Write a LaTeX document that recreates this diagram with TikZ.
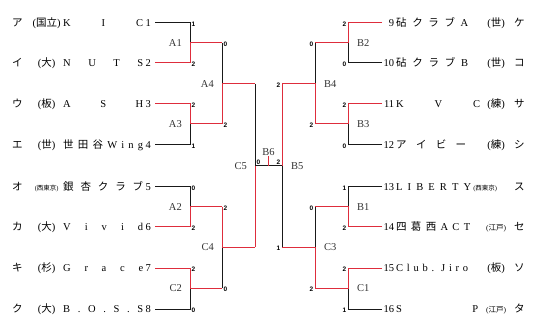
\documentclass[tikz,border=0pt]{standalone}
\usepackage{fontspec}
\setmainfont{Liberation Serif}
\newfontfamily\jp{Noto Sans CJK JP}
\newfontfamily\scf{Liberation Sans}
\newcommand\J[1]{{\jp #1}}
\newcommand\SM[1]{{\fontsize{6.5}{7}\selectfont #1}}
\newcommand\SMB[1]{{\fontsize{7.5}{8}\selectfont #1}}
\definecolor{myred}{RGB}{222,45,60}
\newcommand\lteam[4]{\makebox[18pt][l]{\J{#1}}\makebox[33pt][c]{#2}\makebox[80pt][s]{#3}\makebox[10pt][l]{\hspace{2.5pt}#4}}
\newcommand\rteam[5]{\makebox[12pt][r]{#1}\hspace{2pt}\makebox[82pt][l]{\makebox[#5][s]{#2}}\makebox[36pt][c]{#3}\makebox[12pt][l]{\J{#4}}}
\begin{document}
\begin{tikzpicture}[x=1pt,y=-1pt,
  blk/.style={draw=black!90,line width=1pt},
  rd/.style={draw=myred,line width=1pt},
  team/.style={inner sep=0pt,anchor=base west,font=\fontsize{10.5}{12}\selectfont},
  lsc/.style={inner sep=0pt,anchor=west,xshift=1.5pt,yshift=-1.2pt,font=\scf\bfseries\fontsize{6.5}{6.5}\selectfont},
  rsc/.style={inner sep=0pt,anchor=east,xshift=-1.5pt,yshift=-1.2pt,font=\scf\bfseries\fontsize{6.5}{6.5}\selectfont},
  lmatch/.style={inner sep=0pt,anchor=east,xshift=-8pt,text=black!80,font=\fontsize{10.5}{12}\selectfont},
  rmatch/.style={inner sep=0pt,anchor=west,xshift=9pt,text=black!80,font=\fontsize{10.5}{12}\selectfont}]
\useasboundingbox (0,0) rectangle (538,331);
% team line coordinates
\foreach \i/\y in {1/23,2/63,3/104,4/145,5/187,6/227,7/268,8/309}{
  \coordinate (ls\i) at (155,\y); \coordinate (lc\i) at (190,\y);}
\foreach \i/\y in {9/23,10/63,11/104,12/145,13/187,14/227,15/268,16/309}{
  \coordinate (rs\i) at (382,\y); \coordinate (rc\i) at (348,\y);}
% match coordinates
\coordinate (mA1) at (190,43);  \coordinate (oA1) at (222,43);
\coordinate (mA3) at (190,124); \coordinate (oA3) at (222,124);
\coordinate (mA2) at (190,207); \coordinate (oA2) at (222,207);
\coordinate (mC2) at (190,288); \coordinate (oC2) at (222,288);
\coordinate (mA4) at (222,84);  \coordinate (oA4) at (255,84);
\coordinate (mC4) at (222,247); \coordinate (oC4) at (255,247);
\coordinate (mC5) at (255,166);
\coordinate (mB2) at (348,43);  \coordinate (oB2) at (315,43);
\coordinate (mB3) at (348,124); \coordinate (oB3) at (315,124);
\coordinate (mB1) at (348,207); \coordinate (oB1) at (315,207);
\coordinate (mC1) at (348,288); \coordinate (oC1) at (315,288);
\coordinate (mB4) at (315,84);  \coordinate (oB4) at (282,84);
\coordinate (mC3) at (315,247); \coordinate (oC3) at (282,247);
\coordinate (mB5) at (282,166);
\coordinate (mB6) at (268.5,166); \coordinate (tB6) at (268.5,156);
% black lines
\draw[blk] (ls1) -- (lc1) -- (mA1);
\draw[blk] (ls4) -- (lc4) -- (mA3);
\draw[blk] (ls5) -- (lc5) -- (mA2);
\draw[blk] (ls8) -- (lc8) -- (mC2);
\draw[blk] (oA1) -- (mA4);
\draw[blk] (oC2) -- (mC4);
\draw[blk] (oA4) -- (mC5);
\draw[blk] (mC5) -- (mB5);
\draw[blk] (rs10) -- (rc10) -- (mB2);
\draw[blk] (rs12) -- (rc12) -- (mB3);
\draw[blk] (rs13) -- (rc13) -- (mB1);
\draw[blk] (rs16) -- (rc16) -- (mC1);
\draw[blk] (oB2) -- (mB4);
\draw[blk] (oB1) -- (mC3);
\draw[blk] (oC3) -- (mB5);
% red lines
\draw[rd] (ls2) -- (lc2) -- (mA1) -- (oA1);
\draw[rd] (ls3) -- (lc3) -- (mA3) -- (oA3);
\draw[rd] (ls6) -- (lc6) -- (mA2) -- (oA2);
\draw[rd] (ls7) -- (lc7) -- (mC2) -- (oC2);
\draw[rd] (oA3) -- (mA4) -- (oA4);
\draw[rd] (oA2) -- (mC4) -- (oC4);
\draw[rd] (oC4) -- (mC5);
\draw[rd] (rs9) -- (rc9) -- (mB2) -- (oB2);
\draw[rd] (rs11) -- (rc11) -- (mB3) -- (oB3);
\draw[rd] (rs14) -- (rc14) -- (mB1) -- (oB1);
\draw[rd] (rs15) -- (rc15) -- (mC1) -- (oC1);
\draw[rd] (oB3) -- (mB4) -- (oB4);
\draw[rd] (oC1) -- (mC3) -- (oC3);
\draw[rd] (oB4) -- (mB5);
\draw[rd] (mB6) -- (tB6);
% scores
\node[lsc] (s1) at (lc1) {1};
\node[lsc] (s2) at (lc2) {2};
\node[lsc] (s3) at (lc3) {2};
\node[lsc] (s4) at (lc4) {1};
\node[lsc] (s5) at (lc5) {0};
\node[lsc] (s6) at (lc6) {2};
\node[lsc] (s7) at (lc7) {2};
\node[lsc] (s8) at (lc8) {0};
\node[lsc] (sA1) at (oA1) {0};
\node[lsc] (sA3) at (oA3) {2};
\node[lsc] (sA2) at (oA2) {2};
\node[lsc] (sC2) at (oC2) {0};
\node[rsc] (s9) at (rc9) {2};
\node[rsc] (s10) at (rc10) {0};
\node[rsc] (s11) at (rc11) {2};
\node[rsc] (s12) at (rc12) {0};
\node[rsc] (s13) at (rc13) {1};
\node[rsc] (s14) at (rc14) {2};
\node[rsc] (s15) at (rc15) {2};
\node[rsc] (s16) at (rc16) {1};
\node[rsc] (sB2) at (oB2) {0};
\node[rsc] (sB3) at (oB3) {2};
\node[rsc] (sB1) at (oB1) {0};
\node[rsc] (sC1) at (oC1) {2};
\node[rsc] (sB4) at (oB4) {2};
\node[rsc] (sC3) at (oC3) {1};
\node[lsc,yshift=5pt] (sF1) at (mC5) {0};
\node[rsc,yshift=5pt] (sF2) at (mB5) {2};
% match labels
\node[lmatch] (lA1) at (mA1) {A1};
\node[lmatch] (lA3) at (mA3) {A3};
\node[lmatch] (lA2) at (mA2) {A2};
\node[lmatch] (lC2) at (mC2) {C2};
\node[lmatch] (lA4) at (mA4) {A4};
\node[lmatch] (lC4) at (mC4) {C4};
\node[lmatch] (lC5) at (mC5) {C5};
\node[rmatch] (lB2) at (mB2) {B2};
\node[rmatch] (lB3) at (mB3) {B3};
\node[rmatch] (lB1) at (mB1) {B1};
\node[rmatch] (lC1) at (mC1) {C1};
\node[rmatch] (lB4) at (mB4) {B4};
\node[rmatch] (lC3) at (mC3) {C3};
\node[rmatch] (lB5) at (mB5) {B5};
\node[inner sep=0pt,anchor=south,text=black!80,font=\fontsize{10.5}{12}\selectfont] (lB6) at (tB6) {B6};
% left teams
\node[team] (t1) at (12,26.8) {\lteam{ア}{(\J{国立})}{K I C}{1}};
\node[team] (t2) at (12,66.8) {\lteam{イ}{(\J{大})}{N U T S}{2}};
\node[team] (t3) at (12,107.8) {\lteam{ウ}{(\J{板})}{A S H}{3}};
\node[team] (t4) at (12,148.8) {\lteam{エ}{(\J{世})}{\J{世} \J{田} \J{谷} W i n g}{4}};
\node[team] (t5) at (12,190.8) {\lteam{オ}{\SM{(\J{西東京})}}{\J{銀} \J{杏} \J{ク} \J{ラ} \J{ブ}}{5}};
\node[team] (t6) at (12,230.8) {\lteam{カ}{(\J{大})}{V i v i d}{6}};
\node[team] (t7) at (12,271.8) {\lteam{キ}{(\J{杉})}{G r a c e}{7}};
\node[team] (t8) at (12,312.8) {\lteam{ク}{(\J{大})}{B . O . S . S}{8}};
% right teams
\node[team] (t9) at (382,26.8) {\rteam{9}{\J{砧} \J{ク} \J{ラ} \J{ブ} A}{(\J{世})}{ケ}{72pt}};
\node[team] (t10) at (382,66.8) {\rteam{10}{\J{砧} \J{ク} \J{ラ} \J{ブ} B}{(\J{世})}{コ}{72pt}};
\node[team] (t11) at (382,107.8) {\rteam{11}{K V C}{(\J{練})}{サ}{84pt}};
\node[team] (t12) at (382,148.8) {\rteam{12}{\J{ア} \J{イ} \J{ビ} \J{ー}}{(\J{練})}{シ}{70pt}};
\node[team] (t13) at (382,190.8) {\rteam{13}{L I B E R T Y}{\hspace{-22pt}\SM{(\J{西東京})}}{ス}{75pt}};
\node[team] (t14) at (382,230.8) {\rteam{14}{\J{四} \J{葛} \J{西} A C T}{\SMB{(\J{江戸})}}{セ}{74pt}};
\node[team] (t15) at (382,271.8) {\rteam{15}{C l u b . J i r o}{(\J{板})}{ソ}{72pt}};
\node[team] (t16) at (382,312.8) {\rteam{16}{S P}{\SMB{(\J{江戸})}}{タ}{82pt}};
\end{tikzpicture}
\end{document}
